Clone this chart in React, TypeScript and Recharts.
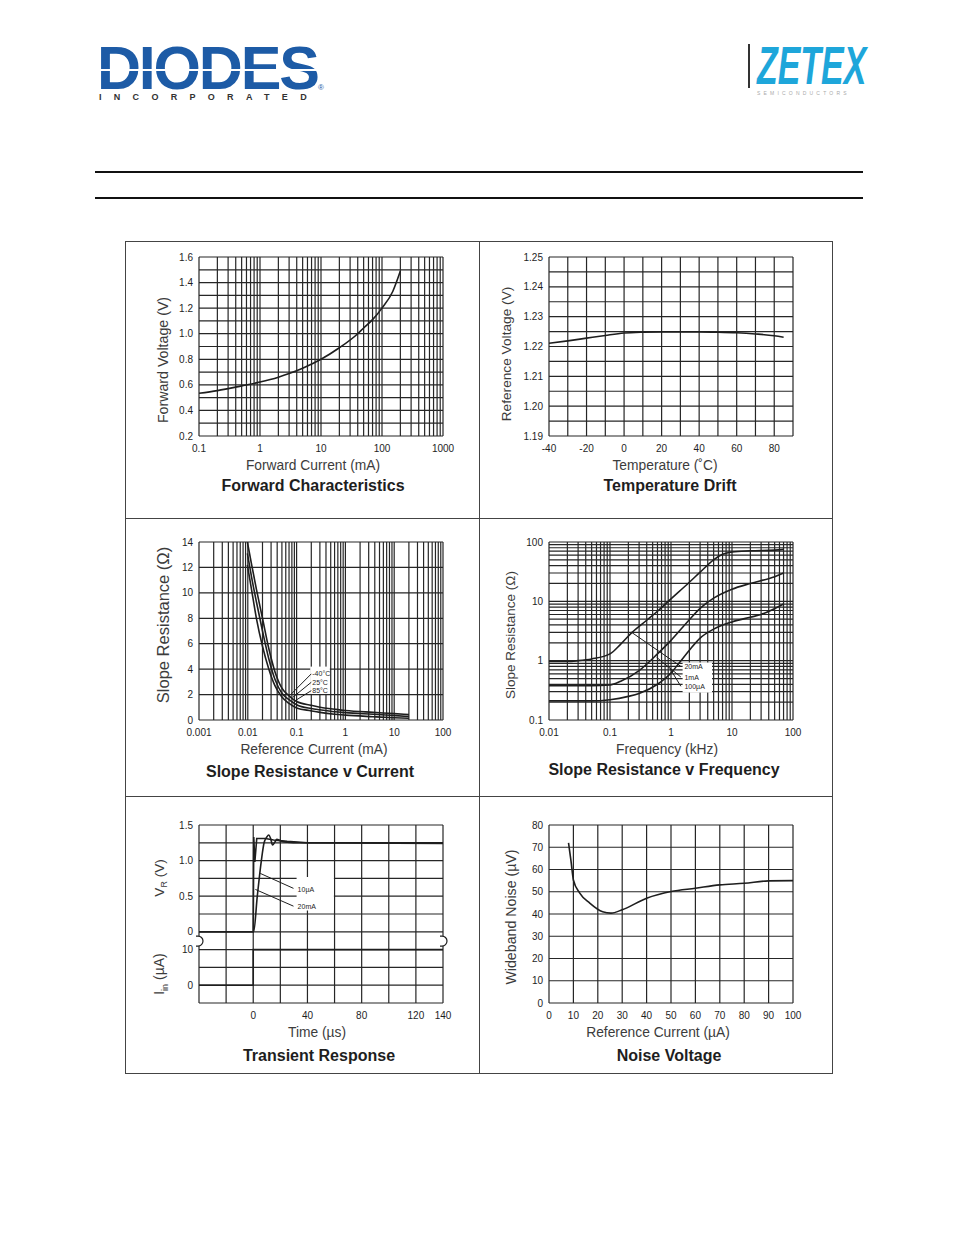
import React from "react";
import {
  CartesianGrid,
  Line,
  LineChart,
  ReferenceArea,
  ReferenceDot,
  ReferenceLine,
  XAxis,
  YAxis,
} from "recharts";

// Forward Characteristics
const fwdCurrent = [0.1, 0.2, 0.5, 1, 2, 3, 5, 10, 20, 40, 50, 70, 100, 150, 200];
const fwdVoltage = [0.534, 0.555, 0.592, 0.622, 0.66, 0.688, 0.73, 0.8, 0.89, 1.0, 1.045, 1.11, 1.2, 1.33, 1.49];
const fwdXMajor = [0.1, 1, 10, 100, 1000];
const fwdXLabels = ["0.1", "1", "10", "100", "1000"];
const fwdYMajor = [0.2, 0.4, 0.6, 0.8, 1.0, 1.2, 1.4, 1.6];
const fwdYLabels = ["0.2", "0.4", "0.6", "0.8", "1.0", "1.2", "1.4", "1.6"];

// Temperature Drift
const driftTemp = [-40, -30, -20, -10, 0, 10, 20, 30, 40, 50, 60, 70, 80, 85];
const driftVref = [1.2211, 1.2219, 1.2228, 1.2237, 1.2245, 1.2248, 1.2249, 1.2249, 1.2249, 1.2248, 1.2246, 1.2242, 1.2236, 1.2231];
const driftXMajor = [-40, -20, 0, 20, 40, 60, 80];
const driftXLabels = ["-40", "-20", "0", "20", "40", "60", "80"];
const driftYMajor = [1.19, 1.2, 1.21, 1.22, 1.23, 1.24, 1.25];
const driftYLabels = ["1.19", "1.20", "1.21", "1.22", "1.23", "1.24", "1.25"];

// Slope Resistance v Current
const srcCurrent = [0.0098, 0.012, 0.015, 0.02, 0.027, 0.036, 0.05, 0.07, 0.1, 0.2, 0.3, 0.6, 1, 3.7, 10, 20];
const srcMinus40 = [14, 12.2, 10.3, 8, 5.6, 3.8, 2.5, 1.9, 1.45, 1.15, 1.0, 0.85, 0.75, 0.6, 0.5, 0.42];
const src25 = [13.1, 11.2, 9.3, 7.0, 4.8, 3.2, 2.1, 1.6, 1.2, 0.9, 0.8, 0.65, 0.58, 0.45, 0.35, 0.28];
const src85 = [12.2, 10.2, 8.0, 5.8, 4.0, 2.7, 1.8, 1.3, 0.95, 0.72, 0.6, 0.45, 0.38, 0.26, 0.18, 0.14];
const srcXMajor = [0.001, 0.01, 0.1, 1, 10, 100];
const srcXLabels = ["0.001", "0.01", "0.1", "1", "10", "100"];
const srcYMajor = [0, 2, 4, 6, 8, 10, 12, 14];
const srcYLabels = ["0", "2", "4", "6", "8", "10", "12", "14"];
const srcSeries = ["-40°C", "25°C", "85°C"];

// Slope Resistance v Frequency
const srf20mAFreq = [0.01, 0.02, 0.03, 0.05, 0.1, 0.15, 0.23, 0.4, 0.6, 1, 2, 3, 5, 7, 10, 20, 50, 70];
const srf20mA = [0.97, 0.97, 1.0, 1.07, 1.3, 1.9, 3.0, 4.8, 6.8, 11, 21, 31, 50, 62, 68, 71, 73, 75];
const srf1mAFreq = [0.01, 0.05, 0.1, 0.15, 0.3, 0.6, 1, 2, 3, 5, 10, 20, 50, 70];
const srf1mA = [0.38, 0.38, 0.39, 0.45, 0.68, 1.3, 2.2, 4.9, 7.6, 11.3, 16, 20, 26, 30];
const srf100uAFreq = [0.01, 0.05, 0.1, 0.2, 0.3, 0.6, 1, 1.4, 2, 3, 5, 10, 20, 30, 70];
const srf100uA = [0.21, 0.21, 0.22, 0.25, 0.28, 0.4, 0.62, 0.95, 1.5, 2.4, 3.4, 4.5, 5.4, 6.0, 9.0];
const srfXMajor = [0.01, 0.1, 1, 10, 100];
const srfXLabels = ["0.01", "0.1", "1", "10", "100"];
const srfYMajor = [0.1, 1, 10, 100];
const srfYLabels = ["0.1", "1", "10", "100"];
const srfSeries = ["20mA", "1mA", "100µA"];

// Transient Response
const tr20mATime = [-40, 0, 0.4, 1.2, 2.6, 9, 15, 25, 40, 140];
const tr20mA = [0, 0, 1.33, 0.98, 1.31, 1.31, 1.29, 1.27, 1.25, 1.25];
const tr10uATime = [-40, 0, 0.3, 3, 6, 8, 10, 11.4, 13, 14.2, 16, 17.4, 20, 25, 35, 140];
const tr10uA = [0, 0, 0, 0.5, 1.0, 1.25, 1.33, 1.36, 1.3, 1.22, 1.26, 1.3, 1.28, 1.26, 1.25, 1.24];
const trInTime = [-40, 0, 0, 140];
const trIn = [0, 0, 10, 10];
const trXMajor = [0, 40, 80, 120, 140];
const trXLabels = ["0", "40", "80", "120", "140"];
const trYMajor = [1.5, 1, 0.5, 0, -0.25, -0.75];
const trYLabels = ["1.5", "1.0", "0.5", "0", "10", "0"];
const trSeries = ["10µA", "20mA"];

// Noise Voltage
const noiseCurrent = [8, 9, 10, 12.6, 16.7, 22, 25.4, 30, 40, 50, 60, 70, 80, 90, 100];
const noiseUV = [72, 64, 55.3, 49.4, 44.9, 41, 40.4, 41.9, 47.1, 50.1, 51.6, 53.1, 53.8, 54.9, 55];
const noiseXMajor = [0, 10, 20, 30, 40, 50, 60, 70, 80, 90, 100];
const noiseYMajor = [0, 10, 20, 30, 40, 50, 60, 70, 80];

const FONT = '"Liberation Sans", Arial, sans-serif';
const INK = "#1e1e1e";
const GRID = "#262626";
const TICK = { fontSize: 10, fill: INK, fontFamily: FONT };

const zip = (xs: number[], ys: number[]) => xs.map((x, i) => ({ x, y: ys[i] }));
const same = (a: number, b: number) =>
  Math.abs(a - b) <= 1e-6 * Math.max(Math.abs(a), Math.abs(b), 1e-9);
const labeller = (vals: number[], labels: string[]) => (v: number) => {
  const i = vals.findIndex((u) => same(u, v));
  return i < 0 ? "" : labels[i];
};

function logGrid(lo: number, hi: number) {
  const out: number[] = [];
  for (let d = lo; d < hi * 0.999; d *= 10) {
    for (let m = 1; m < 10; m++) out.push(Number((d * m).toPrecision(6)));
  }
  out.push(hi);
  return out;
}

function linGrid(lo: number, hi: number, step: number) {
  const out: number[] = [];
  const n = Math.round((hi - lo) / step);
  for (let i = 0; i <= n; i++) out.push(Number((lo + i * step).toFixed(6)));
  return out;
}

type Rect = { left: number; top: number; width: number; height: number };
const YW = 44;
const XH = 24;
const MT = 10;
const MR = 18;

const P1: Rect = { left: 199, top: 257, width: 244, height: 179 };
const P2: Rect = { left: 549, top: 257, width: 244, height: 179 };
const P3: Rect = { left: 199, top: 542, width: 244, height: 178 };
const P4: Rect = { left: 549, top: 542, width: 244, height: 178 };
const P5: Rect = { left: 199, top: 825, width: 244, height: 178 };
const P6: Rect = { left: 549, top: 825, width: 244, height: 178 };

function Frame({ p, children }: { p: Rect; children: React.ReactNode }) {
  return (
    <div style={{ position: "absolute", left: p.left - YW, top: p.top - MT }}>
      <LineChart
        width={YW + p.width + MR}
        height={MT + p.height + XH}
        margin={{ top: MT, right: MR, bottom: 0, left: 0 }}
      >
        {children}
      </LineChart>
    </div>
  );
}

const xProps = {
  type: "number" as const,
  dataKey: "x",
  tick: TICK,
  tickLine: false,
  tickSize: 0,
  tickMargin: 9,
  axisLine: false,
  interval: 0 as const,
  allowDataOverflow: true,
  height: XH,
};
const yProps = {
  type: "number" as const,
  tick: TICK,
  tickLine: false,
  tickSize: 0,
  tickMargin: 6,
  axisLine: false,
  interval: 0 as const,
  allowDataOverflow: true,
  width: YW,
};
const curve = {
  dataKey: "y",
  stroke: INK,
  strokeWidth: 1.6,
  dot: false,
  isAnimationActive: false,
};
const note = (value: string) => ({
  value,
  position: "right" as const,
  offset: 1,
  fontSize: 7,
  fill: INK,
  fontFamily: FONT,
});

function Txt({
  x,
  y,
  size = 13.8,
  bold = false,
  rotate = false,
  color = "#3c3c3c",
  children,
}: {
  x: number;
  y: number;
  size?: number;
  bold?: boolean;
  rotate?: boolean;
  color?: string;
  children: React.ReactNode;
}) {
  return (
    <div
      style={{
        position: "absolute",
        left: x,
        top: y,
        transform: `translate(-50%, -50%)${rotate ? " rotate(-90deg)" : ""}`,
        whiteSpace: "nowrap",
        fontSize: size,
        fontWeight: bold ? 700 : 400,
        color,
        fontFamily: FONT,
        lineHeight: 1,
      }}
    >
      {children}
    </div>
  );
}

const breakMark = (p: any) => (
  <path
    d={`M${p.cx - 3},${p.cy - 5} h2 a5 5 0 0 1 0 10 h-2`}
    fill="#fff"
    stroke={INK}
    strokeWidth={1.2}
  />
);

const line = (x: number, y: number, w: number, h: number, bg = "#111") => (
  <div style={{ position: "absolute", left: x, top: y, width: w, height: h, background: bg }} />
);

export default function App() {
  return (
    <div
      style={{
        position: "relative",
        width: 954,
        height: 1235,
        background: "#fff",
        overflow: "hidden",
        fontFamily: FONT,
      }}
    >
      <style>{"body{margin:0}"}</style>

      {/* header logos */}
      <div
        style={{
          position: "absolute",
          left: 97,
          top: 46,
          fontSize: 61,
          lineHeight: 0.75,
          fontWeight: 900,
          letterSpacing: -2.2,
          color: "#1d5ba6",
          fontFamily: FONT,
        }}
      >
        DIODES
      </div>
      {line(96, 69, 224, 2, "#fff")}
      <div
        style={{
          position: "absolute",
          left: 99,
          top: 93,
          fontSize: 9,
          fontWeight: 700,
          letterSpacing: 12.3,
          color: "#333",
          lineHeight: 1,
          whiteSpace: "nowrap",
        }}
      >
        INCORPORATED
      </div>
      <div style={{ position: "absolute", left: 318, top: 84, fontSize: 8, color: "#1d5ba6", lineHeight: 1 }}>®</div>

      {line(748, 44, 1.5, 44, "#333")}
      <div
        style={{
          position: "absolute",
          left: 757,
          top: 46,
          fontSize: 53,
          lineHeight: 0.75,
          fontWeight: 900,
          fontStyle: "italic",
          color: "#1ea6da",
          transform: "scaleX(0.64)",
          transformOrigin: "left top",
          fontFamily: FONT,
        }}
      >
        ZETEX
      </div>
      <div
        style={{
          position: "absolute",
          left: 757,
          top: 91,
          fontSize: 5,
          letterSpacing: 3.2,
          color: "#aaa",
          lineHeight: 1,
        }}
      >
        SEMICONDUCTORS
      </div>

      {line(95, 171, 768, 2)}
      {line(95, 197, 768, 2)}

      {/* outer frame */}
      <div
        style={{
          position: "absolute",
          left: 125,
          top: 241,
          width: 706,
          height: 831,
          border: "1px solid #444",
        }}
      />
      {line(479, 241, 1, 832, "#444")}
      {line(125, 518, 707, 1, "#444")}
      {line(125, 796, 707, 1, "#444")}

      {/* Forward Characteristics */}
      <Frame p={P1}>
        <CartesianGrid stroke={GRID} strokeWidth={1.2} />
        <XAxis
          {...xProps}
          scale="log"
          domain={[0.1, 1000]}
          ticks={logGrid(0.1, 1000)}
          tickFormatter={labeller(fwdXMajor, fwdXLabels)}
        />
        <YAxis
          {...yProps}
          domain={[0.2, 1.6]}
          ticks={linGrid(0.2, 1.6, 0.1)}
          tickFormatter={labeller(fwdYMajor, fwdYLabels)}
        />
        <Line {...curve} type="monotone" data={zip(fwdCurrent, fwdVoltage)} />
      </Frame>
      <Txt x={163} y={360} size={14.2} rotate>Forward Voltage (V)</Txt>
      <Txt x={313} y={466}>Forward Current (mA)</Txt>
      <Txt x={313} y={486} size={16} bold color={INK}>Forward Characteristics</Txt>

      {/* Temperature Drift */}
      <Frame p={P2}>
        <CartesianGrid stroke={GRID} strokeWidth={1.2} />
        <XAxis
          {...xProps}
          domain={[-40, 90]}
          ticks={linGrid(-40, 90, 10)}
          tickFormatter={labeller(driftXMajor, driftXLabels)}
        />
        <YAxis
          {...yProps}
          domain={[1.19, 1.25]}
          ticks={linGrid(1.19, 1.25, 0.005)}
          tickFormatter={labeller(driftYMajor, driftYLabels)}
        />
        <Line {...curve} type="monotone" data={zip(driftTemp, driftVref)} />
      </Frame>
      <Txt x={507} y={354} size={13.7} rotate>Reference Voltage (V)</Txt>
      <Txt x={665} y={466}>Temperature (˚C)</Txt>
      <Txt x={670} y={486} size={16} bold color={INK}>Temperature Drift</Txt>

      {/* Slope Resistance v Current */}
      <Frame p={P3}>
        <CartesianGrid stroke={GRID} strokeWidth={1.2} />
        <XAxis
          {...xProps}
          scale="log"
          domain={[0.001, 100]}
          ticks={logGrid(0.001, 100)}
          tickFormatter={labeller(srcXMajor, srcXLabels)}
        />
        <YAxis
          {...yProps}
          domain={[0, 14]}
          ticks={srcYMajor}
          tickFormatter={labeller(srcYMajor, srcYLabels)}
        />
        <ReferenceArea x1={0.19} x2={0.48} y1={2.05} y2={4.2} fill="#fff" fillOpacity={1} stroke="none" />
        <Line {...curve} type="monotone" data={zip(srcCurrent, srcMinus40)} />
        <Line {...curve} type="monotone" data={zip(srcCurrent, src25)} />
        <Line {...curve} type="monotone" data={zip(srcCurrent, src85)} />
        <ReferenceLine segment={[{ x: 0.078, y: 2.05 }, { x: 0.2, y: 3.63 }]} stroke={INK} />
        <ReferenceLine segment={[{ x: 0.084, y: 1.79 }, { x: 0.2, y: 2.97 }]} stroke={INK} />
        <ReferenceLine segment={[{ x: 0.099, y: 1.58 }, { x: 0.2, y: 2.31 }]} stroke={INK} />
        <ReferenceDot x={0.2} y={3.63} r={0} stroke="none" label={note(srcSeries[0])} />
        <ReferenceDot x={0.2} y={2.97} r={0} stroke="none" label={note(srcSeries[1])} />
        <ReferenceDot x={0.2} y={2.31} r={0} stroke="none" label={note(srcSeries[2])} />
      </Frame>
      <Txt x={163} y={625} size={16.5} rotate>Slope Resistance (Ω)</Txt>
      <Txt x={314} y={750}>Reference Current (mA)</Txt>
      <Txt x={310} y={772} size={16} bold color={INK}>Slope Resistance v Current</Txt>

      {/* Slope Resistance v Frequency */}
      <Frame p={P4}>
        <CartesianGrid stroke={GRID} strokeWidth={1.2} />
        <XAxis
          {...xProps}
          scale="log"
          domain={[0.01, 100]}
          ticks={logGrid(0.01, 100)}
          tickFormatter={labeller(srfXMajor, srfXLabels)}
        />
        <YAxis
          {...yProps}
          scale="log"
          domain={[0.1, 100]}
          ticks={logGrid(0.1, 100)}
          tickFormatter={labeller(srfYMajor, srfYLabels)}
        />
        <ReferenceArea x1={1.55} x2={4.7} y1={0.29} y2={0.93} fill="#fff" fillOpacity={1} stroke="none" />
        <Line {...curve} type="monotone" data={zip(srf20mAFreq, srf20mA)} />
        <Line {...curve} type="monotone" data={zip(srf1mAFreq, srf1mA)} />
        <Line {...curve} type="monotone" data={zip(srf100uAFreq, srf100uA)} />
        <ReferenceLine segment={[{ x: 0.226, y: 3.0 }, { x: 1.45, y: 0.8 }]} stroke={INK} />
        <ReferenceLine segment={[{ x: 0.58, y: 1.14 }, { x: 1.45, y: 0.53 }]} stroke={INK} />
        <ReferenceLine segment={[{ x: 0.96, y: 0.74 }, { x: 1.45, y: 0.37 }]} stroke={INK} />
        <ReferenceDot x={1.6} y={0.8} r={0} stroke="none" label={note(srfSeries[0])} />
        <ReferenceDot x={1.6} y={0.53} r={0} stroke="none" label={note(srfSeries[1])} />
        <ReferenceDot x={1.6} y={0.36} r={0} stroke="none" label={note(srfSeries[2])} />
      </Frame>
      <Txt x={511} y={635} size={13.5} rotate>Slope Resistance (Ω)</Txt>
      <Txt x={667} y={750}>Frequency (kHz)</Txt>
      <Txt x={664} y={770} size={16} bold color={INK}>Slope Resistance v Frequency</Txt>

      {/* Transient Response */}
      <Frame p={P5}>
        <CartesianGrid stroke={GRID} strokeWidth={1.2} />
        <XAxis
          {...xProps}
          domain={[-40, 140]}
          ticks={linGrid(-40, 140, 20)}
          tickFormatter={labeller(trXMajor, trXLabels)}
        />
        <YAxis
          {...yProps}
          domain={[-1, 1.5]}
          ticks={linGrid(-1, 1.5, 0.25)}
          tickFormatter={labeller(trYMajor, trYLabels)}
        />
        <YAxis yAxisId="iin" type="number" hide domain={[-5, 45]} allowDataOverflow />
        <ReferenceArea x1={32} x2={59.5} y1={0.3} y2={0.77} fill="#fff" fillOpacity={1} stroke="none" />
        <Line {...curve} type="linear" data={zip(trInTime, trIn)} yAxisId="iin" />
        <Line {...curve} type="linear" data={zip(tr20mATime, tr20mA)} />
        <Line {...curve} type="monotone" data={zip(tr10uATime, tr10uA)} />
        <ReferenceLine segment={[{ x: 5.2, y: 0.82 }, { x: 29.7, y: 0.61 }]} stroke={INK} />
        <ReferenceLine segment={[{ x: 1.6, y: 0.595 }, { x: 29.7, y: 0.36 }]} stroke={INK} />
        <ReferenceDot x={32} y={0.6} r={0} stroke="none" label={note(trSeries[0])} />
        <ReferenceDot x={32} y={0.36} r={0} stroke="none" label={note(trSeries[1])} />
        <ReferenceDot x={-40} y={-0.13} r={0} shape={breakMark} />
        <ReferenceDot x={140} y={-0.13} r={0} shape={breakMark} />
      </Frame>
      <Txt x={161} y={878} size={13.5} rotate>
        V<sub style={{ fontSize: 9 }}>R</sub> (V)
      </Txt>
      <Txt x={161} y={974} size={14} rotate>
        I<sub style={{ fontSize: 9 }}>in</sub> (µA)
      </Txt>
      <Txt x={317} y={1033}>Time (µs)</Txt>
      <Txt x={319} y={1056} size={16} bold color={INK}>Transient Response</Txt>

      {/* Noise Voltage */}
      <Frame p={P6}>
        <CartesianGrid stroke={GRID} strokeWidth={1.2} />
        <XAxis {...xProps} domain={[0, 100]} ticks={noiseXMajor} />
        <YAxis {...yProps} domain={[0, 80]} ticks={noiseYMajor} />
        <Line {...curve} type="monotone" data={zip(noiseCurrent, noiseUV)} />
      </Frame>
      <Txt x={511} y={917} size={14.2} rotate>Wideband Noise (µV)</Txt>
      <Txt x={658} y={1033}>Reference Current (µA)</Txt>
      <Txt x={669} y={1056} size={16} bold color={INK}>Noise Voltage</Txt>
    </div>
  );
}
